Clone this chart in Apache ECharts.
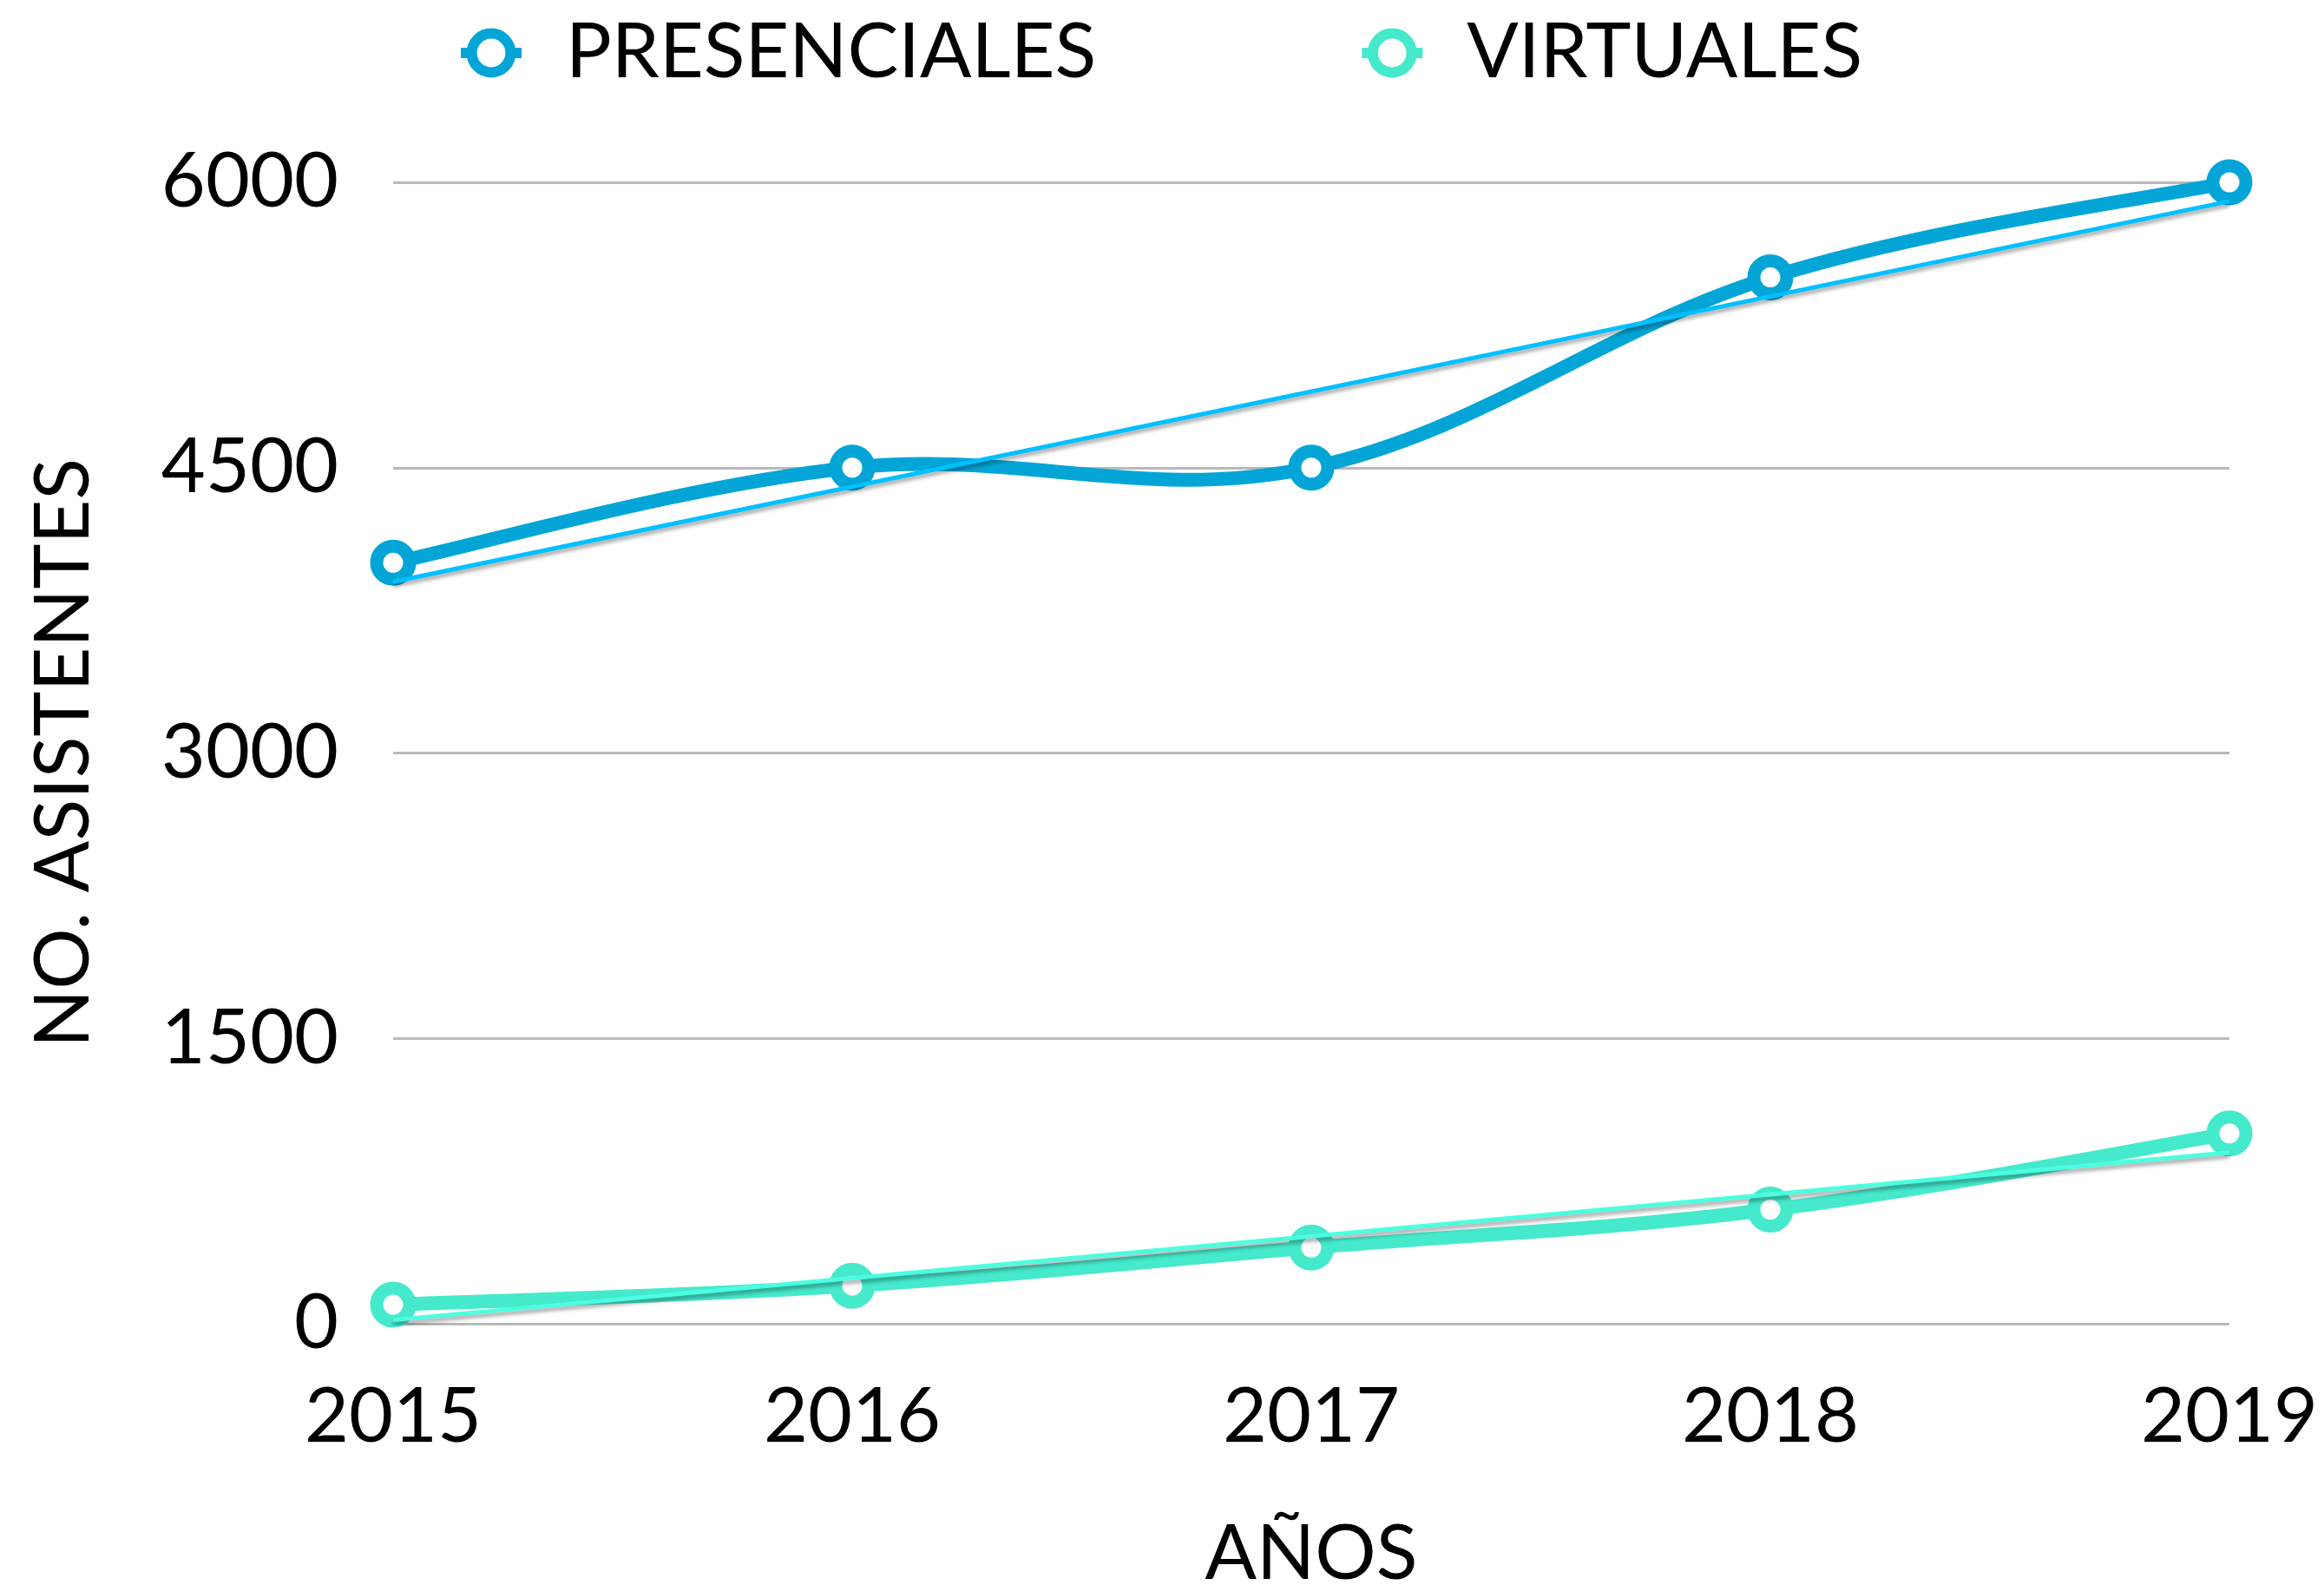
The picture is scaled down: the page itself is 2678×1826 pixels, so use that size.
<!DOCTYPE html>
<html>
<head>
<meta charset="utf-8">
<script src="https://cdn.jsdelivr.net/npm/echarts@6/dist/echarts.min.js"></script>
<style>
  html, body { margin: 0; padding: 0; background: #ffffff; }
  #chart { width: 2678px; height: 1826px; }
</style>
</head>
<body>
<div id="chart"></div>
<script>
// data
const years = ["2015", "2016", "2017", "2018", "2019"];
const presenciales = [4000, 4500, 4500, 5500, 6000];
const virtuales = [100, 200, 400, 600, 1000];
// trend line end points (first and last year)
const presencialesTrend = [3900, 5900];
const virtualesTrend = [20, 900];
const yTicks = [0, 1500, 3000, 4500, 6000];

const FONT = "Lato";
const BLUE = "#02a5d6";
const TEAL = "#45e9cc";
const chart = echarts.init(document.getElementById("chart"));

// smooth curve like the spreadsheet one (can overshoot between equal points)
const curveSeries = (name, values, color) => ({
  name,
  type: "custom",
  silent: true,
  z: 2,
  data: [0],
  renderItem: (params, api) => {
    const pts = values.map((v, i) => api.coord([i, v]));
    const children = [];
    for (let i = 0; i < pts.length - 1; i++) {
      const p0 = pts[Math.max(i - 1, 0)];
      const p1 = pts[i];
      const p2 = pts[i + 1];
      const p3 = pts[Math.min(i + 2, pts.length - 1)];
      const k = 1 / 5.5;
      children.push({
        type: "bezierCurve",
        shape: {
          x1: p1[0], y1: p1[1],
          cpx1: p1[0] + (p2[0] - p0[0]) * k, cpy1: p1[1] + (p2[1] - p0[1]) * k,
          cpx2: p2[0] - (p3[0] - p1[0]) * k, cpy2: p2[1] - (p3[1] - p1[1]) * k,
          x2: p2[0], y2: p2[1],
        },
        style: { stroke: color, lineWidth: 16, fill: null, lineCap: "round" },
      });
    }
    return { type: "group", children };
  },
});

const markerSeries = (name, data, color) => ({
  name,
  type: "line",
  data,
  symbol: "circle",
  symbolSize: 38,
  z: 3,
  lineStyle: { width: 14, color, opacity: 0 },
  itemStyle: { color: "#ffffff", borderColor: color, borderWidth: 15 },
});

const trendSeries = (name, ends, color) => ({
  name,
  type: "line",
  data: [[years[0], ends[0]], [years[years.length - 1], ends[1]]],
  symbol: "none",
  silent: true,
  z: 5,
  lineStyle: {
    width: 5,
    color,
    shadowColor: "rgba(0, 0, 0, 0.35)",
    shadowBlur: 4,
    shadowOffsetY: 4,
  },
});

const option = {
  animation: false,
  textStyle: { fontFamily: FONT },
  grid: { left: 453, right: 109, top: 210, bottom: 301, outerBoundsMode: "none", containLabel: false },
  legend: {
    top: 12,
    left: 520,
    itemWidth: 70,
    itemHeight: 56,
    itemGap: 300,
    lineStyle: { width: 12, opacity: 1 },
    itemStyle: { borderWidth: 12 },
    textStyle: { fontFamily: FONT, fontSize: 88, color: "#000000", padding: [0, 0, 0, 46] },
    data: ["PRESENCIALES", "VIRTUALES"],
  },
  xAxis: {
    type: "category",
    data: years,
    boundaryGap: false,
    name: "AÑOS",
    nameLocation: "middle",
    nameGap: 222,
    nameTextStyle: { fontFamily: FONT, fontSize: 88, color: "#000000" },
    axisLine: { show: false },
    axisTick: { show: false },
    axisLabel: { fontFamily: FONT, fontSize: 88, color: "#000000", margin: 64 },
  },
  yAxis: {
    type: "value",
    min: yTicks[0],
    max: yTicks[yTicks.length - 1],
    interval: 1500,
    name: "NO. ASISTENTES",
    nameLocation: "middle",
    nameGap: 335,
    nameTextStyle: { fontFamily: FONT, fontSize: 88, color: "#000000" },
    axisLine: { show: false },
    axisTick: { show: false },
    axisLabel: { fontFamily: FONT, fontSize: 88, color: "#000000", margin: 63, formatter: (v) => String(v) },
    splitLine: { lineStyle: { color: "#b9b9b9", width: 3 } },
  },
  series: [
    curveSeries("curva presenciales", presenciales, BLUE),
    curveSeries("curva virtuales", virtuales, TEAL),
    markerSeries("PRESENCIALES", presenciales, BLUE),
    markerSeries("VIRTUALES", virtuales, TEAL),
    trendSeries("Tendencia presenciales", presencialesTrend, "#00c0ff"),
    trendSeries("Tendencia virtuales", virtualesTrend, "#4cffe0"),
  ],
};

chart.setOption(option);
</script>
</body>
</html>
